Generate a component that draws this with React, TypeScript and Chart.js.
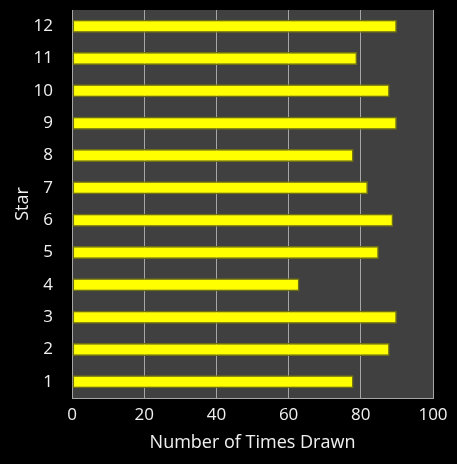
import { useEffect, useRef } from 'react';
import { Chart, registerables } from 'chart.js';

Chart.register(...registerables);

// Star numbers and how often each one came up
const stars = ['1', '2', '3', '4', '5', '6', '7', '8', '9', '10', '11', '12'];
const timesDrawn = [78, 88, 90, 63, 85, 89, 82, 78, 90, 88, 79, 90];
const xTicks = [0, 20, 40, 60, 80, 100];

const FONT = "'Open Sans', 'DejaVu Sans', sans-serif";

// Paint the dark plot area behind the bars
const plotBackground = {
  id: 'plotBackground',
  beforeDraw(chart: Chart) {
    const { ctx, chartArea } = chart;
    ctx.save();
    ctx.fillStyle = '#000000';
    ctx.fillRect(0, 0, chart.width, chart.height);
    ctx.fillStyle = '#404040';
    ctx.fillRect(chartArea.left, chartArea.top, chartArea.right - chartArea.left, chartArea.bottom - chartArea.top);
    ctx.restore();
  },
};

export default function App() {
  const canvasRef = useRef<HTMLCanvasElement>(null);

  useEffect(() => {
    document.body.style.margin = '0';
    document.body.style.background = '#000';
    if (!canvasRef.current) return;

    const chart = new Chart(canvasRef.current, {
      type: 'bar',
      data: {
        labels: stars,
        datasets: [
          {
            data: timesDrawn,
            backgroundColor: '#ffff00',
            borderColor: '#6e6e12',
            borderWidth: 1.5,
            borderSkipped: false,
            categoryPercentage: 1,
            barPercentage: 0.4,
          },
        ],
      },
      options: {
        indexAxis: 'y',
        animation: false,
        responsive: false,
        layout: { padding: { top: 10, right: 24, left: 12, bottom: 10 } },
        plugins: { legend: { display: false }, tooltip: { enabled: false } },
        scales: {
          x: {
            min: 0,
            max: 100,
            afterBuildTicks: (scale) => {
              scale.ticks = xTicks.map((v) => ({ value: v }));
            },
            grid: { color: '#a6a6a6', lineWidth: 1, drawTicks: false },
            border: { color: '#a6a6a6', width: 1 },
            ticks: { color: '#f0f0f0', font: { family: FONT, size: 17 }, padding: 7 },
            title: {
              display: true,
              text: 'Number of Times Drawn',
              color: '#f0f0f0',
              font: { family: FONT, size: 18 },
              padding: { top: 0, bottom: 0 },
            },
          },
          y: {
            reverse: true,
            afterFit: (scale) => {
              scale.paddingTop = 0;
              scale.paddingBottom = 0;
            },
            grid: { display: false, drawTicks: false },
            border: { color: '#a6a6a6', width: 1 },
            ticks: { color: '#f0f0f0', font: { family: FONT, size: 17 }, padding: 19 },
            title: {
              display: true,
              text: 'Star',
              color: '#f0f0f0',
              font: { family: FONT, size: 18 },
              padding: { top: 0, bottom: -19 },
            },
          },
        },
      },
      plugins: [plotBackground],
    });

    return () => chart.destroy();
  }, []);

  return (
    <div style={{ width: 457, height: 464, background: '#000' }}>
      <canvas ref={canvasRef} width={457} height={464}></canvas>
    </div>
  );
}
